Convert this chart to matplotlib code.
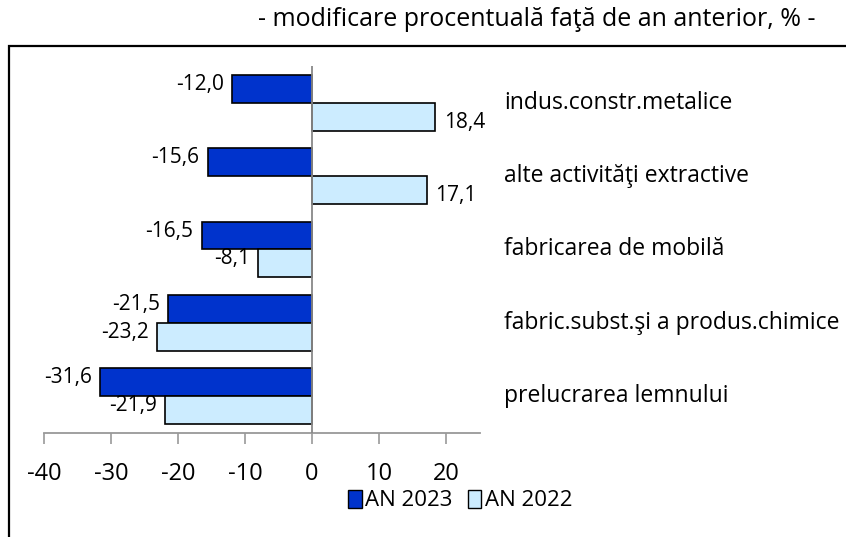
import matplotlib.pyplot as plt
import matplotlib.patches as mpatches
import numpy as np

plt.rcParams['font.family'] = ['Open Sans', 'DejaVu Sans']

# data
categories = ['indus.constr.metalice', 'alte activităţi extractive', 'fabricarea de mobilă',
              'fabric.subst.şi a produs.chimice', 'prelucrarea lemnului']
an2023 = [-12.0, -15.6, -16.5, -21.5, -31.6]
an2022 = [18.4, 17.1, -8.1, -23.2, -21.9]
xticks = [-40, -30, -20, -10, 0, 10, 20]

c23 = '#0033CC'
c22 = '#CCECFF'

fig = plt.figure(figsize=(8.46, 5.37), dpi=100)
ax = fig.add_axes([0.052, 0.194, 0.515, 0.683])

y = np.arange(len(categories))
h = 0.38
ax.barh(y - h / 2, an2023, height=h, color=c23, edgecolor='black', linewidth=1.2, zorder=2)
ax.barh(y + h / 2, an2022, height=h, color=c22, edgecolor='black', linewidth=1.2, zorder=2)

def fmt(v):
    return f'{v:.1f}'.replace('.', ',')

for i in range(len(categories)):
    for v, yy in ((an2023[i], y[i] - h / 2), (an2022[i], y[i] + h / 2)):
        if v < 0:
            ax.text(v - 1.2, yy - 0.06, fmt(v), ha='right', va='center', fontsize=15)
        else:
            ax.text(v + 1.3, yy + 0.08, fmt(v), ha='left', va='center', fontsize=15)
    ax.text(28.6, y[i], categories[i], ha='left', va='center', fontsize=16.5, clip_on=False)

ax.set_xlim(-40, 25)
ax.set_ylim(len(categories) - 0.5, -0.5)
ax.axvline(0, color='#888888', linewidth=1.3, zorder=3)

for s in ['top', 'right', 'left']:
    ax.spines[s].set_visible(False)
ax.spines['bottom'].set_color('#999999')
ax.spines['bottom'].set_linewidth(1.3)
ax.set_yticks([])
ax.set_xticks(xticks)
ax.set_xticklabels([str(t) for t in xticks], fontsize=17)
ax.tick_params(axis='x', direction='out', length=8, width=1.2, color='#999999', pad=13)

fig.text(0.634, 0.963, '- modificare procentuală faţă de an anterior, % -', ha='center', va='center',
         fontsize=18)

# partial frame around chart area
frame = mpatches.Rectangle((0.011, -0.05), 1.05, 0.965, transform=fig.transFigure,
                           fill=False, edgecolor='black', linewidth=1.6, clip_on=False)
fig.patches.append(frame)

handles = [mpatches.Patch(facecolor=c23, edgecolor='black', label='AN 2023'),
           mpatches.Patch(facecolor=c22, edgecolor='black', label='AN 2022')]
fig.legend(handles=handles, loc='center', bbox_to_anchor=(0.544, 0.068), ncol=2, frameon=False,
           fontsize=16, handlelength=0.6, handleheight=0.9, handletextpad=0.15, columnspacing=0.7)

fig.savefig('out.png', dpi=100)
